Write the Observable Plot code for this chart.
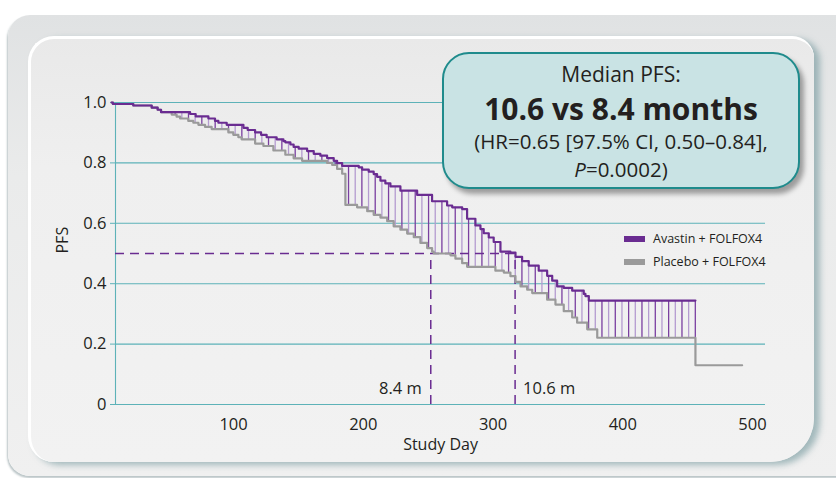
<!DOCTYPE html>
<html><head><meta charset="utf-8">
<script src="https://cdn.jsdelivr.net/npm/d3@7"></script>
<script src="https://cdn.jsdelivr.net/npm/@observablehq/plot@0.6"></script>
<style>
html,body{margin:0;padding:0;background:#fff;width:836px;height:478px;overflow:hidden;font-family:"Open Sans",sans-serif;}
#wrap{position:relative;width:836px;height:478px;overflow:hidden;}
.outer{position:absolute;left:8px;top:15px;width:860px;height:461px;border-radius:22px;background:linear-gradient(#e0e2e3,#eaebeb 35%,#f0f0f0);box-shadow:-1px 2px 2px rgba(60,90,95,0.35);}
.inner{position:absolute;left:28px;top:36px;width:783px;height:423px;border-radius:26px 22px 44px 26px;background:linear-gradient(#e9e9e9,#efefef 30%,#f2f2f2);border-top:3px solid #fff;border-left:3px solid #fff;box-shadow:6px 3px 6px rgba(100,140,145,0.55);}
#chart{position:absolute;left:0;top:0;}
.callout{position:absolute;left:442px;top:52px;width:358px;height:137px;box-sizing:border-box;border:2.5px solid #1f8b8c;border-radius:27px;background:#c9e3e4;box-shadow:4px 5px 5px rgba(0,0,0,0.35);color:#231f20;}
.callout div{position:absolute;left:0;width:100%;text-align:center;white-space:nowrap;}
.l1{top:10px;font-size:21px;line-height:21px;}
.l2{top:40px;font-size:30px;line-height:30px;font-weight:700;}
.l3{top:77px;font-size:20.5px;line-height:20px;}
.l4{top:104.5px;font-size:20.5px;line-height:20px;}
.leg{position:absolute;font-size:12.5px;color:#231f20;line-height:16px;}
.sw{position:absolute;width:21px;height:6px;}
</style></head>
<body><div id="wrap">
<div class="outer"></div>
<div class="inner"></div>
<div id="chart"></div>
<div class="sw" style="left:624px;top:236px;background:#6a2c91"></div>
<div class="leg" style="left:653px;top:231px">Avastin + FOLFOX4</div>
<div class="sw" style="left:624px;top:259px;background:#9a9a9a"></div>
<div class="leg" style="left:653px;top:254px">Placebo + FOLFOX4</div>
<div class="callout">
 <div class="l1">Median PFS:</div>
 <div class="l2">10.6 vs 8.4 months</div>
 <div class="l3">(HR=0.65 [97.5% CI, 0.50–0.84],</div>
 <div class="l4"><i>P</i>=0.0002)</div>
</div>
</div>
<script>
// ---- data ----
const avastinDay = [6,7,22.7,36.9,41.5,44.1,66.5,70.8,80.6,85.7,88.3,94.7,107.6,110.9,116.6,121.2,125.5,133.2,138.4,139.9,143.8,146.3,150.2,156.7,161.8,166.9,172.1,177.2,179.8,183.7,196.5,199.1,204.2,208.0,210.6,213.2,217.0,220.9,228.6,241.5,253.0,264.6,268.5,276.2,280.0,286.4,290.3,292.8,296.7,300.5,305.7,313.4,317.3,322.4,327.5,335.2,341.7,345.6,349.4,354.5,361.0,369.9,371.2,373.8,456];
const avastinPFS = [1.0,0.995,0.990,0.983,0.976,0.968,0.962,0.954,0.947,0.939,0.933,0.926,0.916,0.909,0.901,0.893,0.885,0.878,0.872,0.868,0.861,0.853,0.847,0.839,0.830,0.824,0.816,0.807,0.799,0.790,0.785,0.778,0.771,0.763,0.754,0.741,0.732,0.722,0.708,0.694,0.673,0.659,0.653,0.647,0.615,0.593,0.581,0.567,0.553,0.538,0.506,0.503,0.489,0.475,0.460,0.443,0.426,0.410,0.391,0.386,0.377,0.366,0.359,0.344,0.344];
const placeboDay = [6,7,22.7,36.9,41.5,44.1,52.3,56.1,58.8,65.1,69.0,72.9,78.0,83.1,96.0,99.8,103.7,106.2,116.6,123.0,130.7,139.9,146.3,152.8,172.1,176.0,179.8,183.7,186.2,195.2,203.0,208.0,213.2,218.4,223.4,228.6,233.8,238.9,244.0,249.2,253.0,254.3,267.2,271.0,276.2,280.0,301.8,308.3,313.4,317.3,321.2,326.3,330.2,341.7,348.1,354.5,361.0,364.8,372.6,380.3,456,492];
const placeboPFS = [1.0,0.995,0.990,0.983,0.976,0.968,0.960,0.953,0.947,0.939,0.933,0.926,0.919,0.912,0.901,0.893,0.885,0.878,0.864,0.856,0.841,0.827,0.815,0.807,0.800,0.793,0.780,0.764,0.661,0.653,0.640,0.628,0.619,0.607,0.590,0.579,0.566,0.554,0.535,0.518,0.506,0.500,0.494,0.483,0.468,0.456,0.443,0.437,0.425,0.406,0.391,0.380,0.369,0.347,0.331,0.309,0.288,0.271,0.249,0.221,0.130,0.130];
const medianDays = [252, 317];
const medianLabels = ["8.4 m", "10.6 m"];
const medianPFS = 0.5;
const xTicks = [100, 200, 300, 400, 500];
const yTicks = [0, 0.2, 0.4, 0.6, 0.8, 1.0];
const xDomain = [9, 510];

// ---- build ----
const avastin = avastinDay.map((d, i) => ({day: d, pfs: avastinPFS[i]}));
const placebo = placeboDay.map((d, i) => ({day: d, pfs: placeboPFS[i]}));
function stepAt(arr, t) {
  let v = arr[0].pfs;
  for (const p of arr) { if (p.day <= t) v = p.pfs; else break; }
  return v;
}
const hatchEnd = avastinDay[avastinDay.length - 1] - 0.1;
const hatch = [];
for (let i = 0; hatchEnd - i * 5.14 > 50; i++) {
  const t = hatchEnd - i * 5.14;
  hatch.push({day: t, lo: stepAt(placebo, t), hi: stepAt(avastin, t), k: i % 2});
}
const medians = medianDays.map((d, i) => ({day: d, label: medianLabels[i], side: i}));

const teal = "#5db2b8", purple = "#6a2c91", gray = "#9a9a9a";
const font = "'Open Sans', sans-serif";

const chart = Plot.plot({
  width: 836, height: 478,
  marginLeft: 115, marginRight: 71, marginTop: 102, marginBottom: 74,
  x: {domain: xDomain},
  y: {domain: [0, 1]},
  style: {background: "transparent", fontFamily: font, fontSize: "16.5px", color: "#231f20", overflow: "visible"},
  marks: [
    Plot.ruleY(yTicks, {x1: xDomain[0], x2: xDomain[1], stroke: teal, strokeWidth: 1.1}),
    Plot.ruleX([xDomain[0]], {y1: 0, y2: 1, stroke: teal, strokeWidth: 1.1}),
    Plot.axisY({ticks: yTicks, tickSize: 5, tickPadding: 4, stroke: teal, tickFormat: d => d === 0 ? "0" : d.toFixed(1), label: null}),
    Plot.axisX({ticks: xTicks, tickSize: 0, tickPadding: 14, label: null}),
    Plot.text(["Study Day"], {frameAnchor: "bottom", dy: 40, lineAnchor: "middle", fontSize: 16}),
    Plot.text(["PFS"], {frameAnchor: "left", dx: -53, rotate: -90, lineAnchor: "middle", fontSize: 16}),
    Plot.ruleX(hatch, {x: "day", y1: "lo", y2: "hi", stroke: d => d.k ? "#b49bd0" : "#7a3fa0", strokeWidth: 1.3}),
    Plot.ruleY([medianPFS], {x1: xDomain[0], x2: medianDays[1], stroke: purple, strokeWidth: 1.5, strokeDasharray: "9,6"}),
    Plot.ruleX(medians, {x: "day", y1: 0, y2: medianPFS, stroke: purple, strokeWidth: 1.5, strokeDasharray: "9,6"}),
    Plot.line(placebo, {x: "day", y: "pfs", curve: "step-after", stroke: gray, strokeWidth: 2.2}),
    Plot.line(avastin, {x: "day", y: "pfs", curve: "step-after", stroke: purple, strokeWidth: 2.2}),
    Plot.text(medians.filter(d => d.side === 0), {x: "day", y: 0, text: "label", dx: -9, dy: -16, textAnchor: "end", lineAnchor: "middle"}),
    Plot.text(medians.filter(d => d.side === 1), {x: "day", y: 0, text: "label", dx: 8, dy: -16, textAnchor: "start", lineAnchor: "middle"})
  ]
});
document.getElementById("chart").appendChild(chart);
</script>
</body></html>
